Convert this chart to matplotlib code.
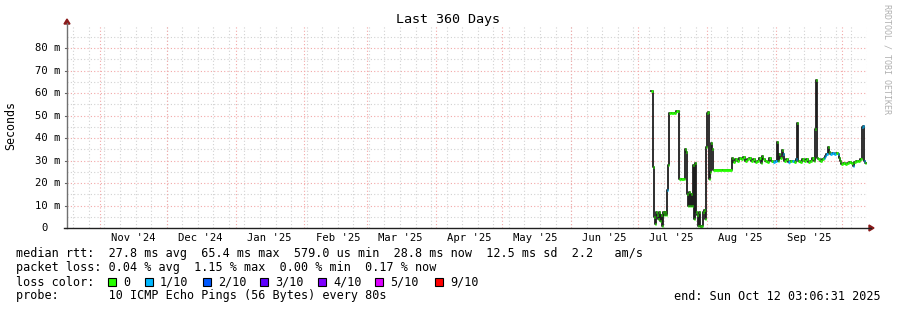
import matplotlib
matplotlib.use("Agg")
import matplotlib.pyplot as plt
from matplotlib.patches import Rectangle, Polygon
from matplotlib.lines import Line2D
import matplotlib.transforms as mtrans
from datetime import datetime, timedelta

# ---------------- data ----------------
start_time = datetime(2024, 10, 17, 3, 6, 31)
span_days = 360

# day offsets from start_time, median rtt (ms), loss level index
day_offset = [262.80, 263.70, 264.15, 264.60, 265.05, 265.50, 265.95, 266.40, 266.85, 267.30,
              267.75, 268.20, 268.65, 269.10, 269.55, 270.00, 270.45, 270.90, 271.80, 273.15,
              274.05, 274.95, 275.40, 276.30, 277.65, 278.10, 278.55, 279.00, 279.45, 279.90,
              280.35, 280.80, 281.25, 281.70, 282.15, 282.60, 283.05, 283.50, 283.95, 284.40,
              284.85, 285.30, 285.75, 286.20, 286.65, 287.10, 287.55, 288.00, 288.45, 288.90,
              289.35, 289.80, 290.25, 290.70, 294.75, 299.25, 299.70, 300.60, 301.50, 302.40,
              303.30, 304.20, 305.10, 306.00, 306.90, 307.80, 308.70, 309.60, 310.50, 311.40,
              312.30, 312.75, 313.20, 314.10, 315.00, 315.90, 316.80, 317.70, 318.60, 319.50,
              319.95, 320.40, 320.85, 321.75, 322.20, 322.65, 323.55, 324.45, 325.35, 326.25,
              327.15, 328.05, 328.50, 328.95, 329.85, 330.75, 331.65, 332.55, 333.45, 334.35,
              335.25, 336.15, 336.60, 337.05, 337.50, 337.95, 338.85, 339.75, 340.65, 341.10,
              341.55, 342.45, 342.90, 343.35, 344.25, 345.15, 346.05, 346.95, 347.40, 347.85,
              348.30, 349.20, 350.10, 351.00, 351.90, 352.80, 353.70, 354.15, 355.05, 355.95,
              356.85, 357.75, 358.20, 358.65, 359.10]
median_ms = [61.0, 27.0, 5.0, 2.0, 7.0, 6.0, 4.0, 7.0, 3.0, 6.0,
             1.0, 7.0, 6.0, 7.0, 6.0, 17.0, 28.0, 51.0, 51.0, 51.0,
             52.0, 52.0, 22.0, 22.0, 22.0, 35.0, 34.0, 15.0, 10.0, 16.0,
             10.0, 15.0, 10.0, 28.0, 4.0, 29.0, 7.0, 6.0, 1.0, 7.0,
             1.0, 0.5, 1.0, 7.0, 8.0, 4.0, 36.0, 51.0, 51.5, 22.0,
             25.0, 38.0, 35.0, 26.0, 26.0, 31.0, 29.5, 30.5, 30.0, 31.0,
             30.5, 31.5, 30.0, 30.5, 31.0, 30.0, 30.5, 29.5, 30.0, 31.0,
             29.0, 32.0, 30.5, 30.0, 29.5, 31.0, 30.0, 29.5, 30.0, 38.4,
             30.0, 33.0, 31.0, 34.7, 33.0, 30.0, 30.5, 29.5, 30.0, 30.0,
             29.5, 30.5, 46.5, 30.0, 29.5, 30.5, 30.0, 30.5, 29.5, 30.0,
             31.0, 30.0, 44.0, 65.8, 31.0, 30.5, 30.0, 30.5, 31.0, 32.0,
             33.0, 36.0, 34.0, 33.0, 33.5, 33.0, 33.5, 33.0, 31.0, 30.0,
             28.5, 29.0, 28.5, 29.0, 29.5, 29.0, 27.5, 29.5, 30.0, 30.0,
             30.5, 45.0, 45.5, 30.0, 29.0]
loss_level = [0, 0, 0, 0, 0, 0, 0, 0, 0, 0,
              0, 0, 0, 0, 0, 1, 0, 0, 0, 0,
              0, 0, 0, 0, 0, 0, 0, 0, 0, 0,
              0, 0, 0, 0, 0, 0, 0, 0, 0, 0,
              0, 0, 0, 0, 0, 0, 0, 0, 0, 0,
              0, 0, 0, 0, 0, 0, 0, 0, 0, 0,
              0, 0, 0, 0, 0, 0, 0, 0, 0, 0,
              0, 0, 0, 0, 0, 0, 0, 1, 1, 0,
              0, 0, 0, 0, 1, 0, 0, 1, 0, 1,
              0, 1, 0, 0, 0, 0, 0, 0, 0, 0,
              0, 0, 0, 0, 0, 0, 0, 0, 1, 1,
              1, 0, 0, 1, 1, 1, 0, 1, 0, 0,
              0, 0, 0, 0, 0, 0, 1, 0, 0, 0,
              0, 1, 1, 1, 0]

loss_labels = ["0", "1/10", "2/10", "3/10", "4/10", "5/10", "9/10"]
loss_colors = ["#26ff00", "#00b8ff", "#0059ff", "#5e00ff", "#7e00ff", "#dd00ff", "#ff0000"]

month_labels = ["Nov '24", "Dec '24", "Jan '25", "Feb '25", "Mar '25", "Apr '25",
                "May '25", "Jun '25", "Jul '25", "Aug '25", "Sep '25"]
ytick_values = [0, 10, 20, 30, 40, 50, 60, 70, 80]

legend_rtt = "median rtt:  27.8 ms avg  65.4 ms max  579.0 us min  28.8 ms now  12.5 ms sd  2.2   am/s"
legend_loss = "packet loss: 0.04 % avg  1.15 % max  0.00 % min  0.17 % now"
legend_probe = "probe:       10 ICMP Echo Pings (56 Bytes) every 80s"
end_text = "end: Sun Oct 12 03:06:31 2025"
title = "Last 360 Days"

# ---------------- layout ----------------
W, H = 897, 310
MONO = "DejaVu Sans Mono"
plt.rcParams["font.family"] = MONO

fig = plt.figure(figsize=(W / 100, H / 100), dpi=100)
fig.patch.set_facecolor("white")

def fx(x):
    return x / W

def fy(y):
    return 1 - y / H

PL, PR, PT, PB = 67, 867, 26, 228
ax = fig.add_axes([fx(PL), fy(PB), (PR - PL) / W, (PB - PT) / H])
ax.set_xlim(0, span_days)
ax.set_ylim(0, 89.8)
for s in ax.spines.values():
    s.set_visible(False)
ax.set_xticks([])
ax.set_yticks([])
ax.patch.set_facecolor("white")

def day_of(dt):
    return (dt - start_time).total_seconds() / 86400.0

dot = (0, (1, 2))
GRAY = "#d2d2d2"
RED = "#f3a8a8"
# horizontal grid
for v in range(5, 90, 5):
    ax.axhline(v, color=RED if v % 10 == 0 else GRAY, lw=0.8, ls=dot, zorder=1)
# weekly minor grid
wk = datetime(2024, 10, 20)
while day_of(wk) < span_days:
    ax.axvline(day_of(wk), color=GRAY, lw=0.8, ls=dot, zorder=1)
    wk += timedelta(days=7)
# monthly major grid
month_starts = []
y, m = 2024, 11
while True:
    d = datetime(y, m, 1)
    if day_of(d) > span_days:
        break
    month_starts.append(d)
    m += 1
    if m > 12:
        m = 1
        y += 1
for d in month_starts:
    ax.axvline(day_of(d), color=RED, lw=0.8, ls=dot, zorder=1)

# month labels at mid-month
lab_tr = mtrans.blended_transform_factory(ax.transData, fig.transFigure)
for d, lab in zip(month_starts, month_labels):
    mid = d.replace(day=16)
    ax.text(day_of(mid), fy(238), lab, transform=lab_tr, ha="center", va="center",
            fontsize=7.6, family=MONO, color="#000000")

# y tick labels
ytr = mtrans.blended_transform_factory(fig.transFigure, ax.transData)
for v in ytick_values:
    if v == 0:
        ax.text(fx(48), v, "0", transform=ytr, ha="right", va="center", fontsize=7.6, color="#000000")
    else:
        ax.text(fx(60.5), v, "%d m" % v, transform=ytr, ha="right", va="center", fontsize=7.6, color="#000000")
    ax.plot([-1.0, 0], [v, v], color="#666666", lw=0.8, clip_on=False, zorder=3)

# ---------------- data marks ----------------
step = 0.45
t_ext = day_offset + [day_offset[-1] + step]
v_ext = median_ms + [median_ms[-1]]
ax.step(t_ext, v_ext, where="post", color="#1e1e1e", lw=1.3, zorder=4)
for i in range(len(day_offset)):
    t0 = day_offset[i]
    t1 = day_offset[i + 1] if i + 1 < len(day_offset) else day_offset[i] + step
    ax.hlines(median_ms[i], t0, t1, color=loss_colors[loss_level[i]], lw=2.0, zorder=5)

# ---------------- axes lines + arrows ----------------
arrow_c = "#8b1a1a"
fig.add_artist(Line2D([fx(PL), fx(PL)], [fy(PB), fy(23)], color="#707070", lw=1.0))
fig.add_artist(Line2D([fx(PL - 3), fx(871)], [fy(PB), fy(PB)], color="#202020", lw=1.0))
fig.add_artist(Polygon([(fx(PL - 3), fy(24)), (fx(PL + 3), fy(24)), (fx(PL), fy(19))],
                       closed=True, color=arrow_c, transform=fig.transFigure))
fig.add_artist(Polygon([(fx(869), fy(PB - 3)), (fx(869), fy(PB + 3)), (fx(874), fy(PB))],
                       closed=True, color=arrow_c, transform=fig.transFigure))

# ---------------- texts ----------------
fig.text(fx(448), fy(19), title, ha="center", va="center", fontsize=9.6, family=MONO, color="#000000")
fig.text(fx(11), fy(126), "Seconds", rotation=90, ha="center", va="center", fontsize=8.4,
         family=MONO, color="#000000")
fig.text(fx(887), fy(59), "RRDTOOL / TOBI OETIKER", rotation=270, ha="center", va="center",
         fontsize=6.0, family=MONO, color="#b0b0b0")

LFS = 8.45
fig.text(fx(16), fy(254), legend_rtt, ha="left", va="center", fontsize=LFS, family=MONO)
fig.text(fx(16), fy(268), legend_loss, ha="left", va="center", fontsize=LFS, family=MONO)
fig.text(fx(16), fy(282), "loss color:", ha="left", va="center", fontsize=LFS, family=MONO)
box_x = [108, 145, 203, 260, 318, 375, 435]
for bx, lab, col in zip(box_x, loss_labels, loss_colors):
    fig.add_artist(Rectangle((fx(bx), fy(286)), 8 / W, 8 / H, facecolor=col, edgecolor="#000000",
                             lw=0.8, transform=fig.transFigure))
    fig.text(fx(bx + 15), fy(282), lab, ha="left", va="center", fontsize=LFS, family=MONO)
fig.text(fx(16), fy(296), legend_probe, ha="left", va="center", fontsize=LFS, family=MONO)
fig.text(fx(881), fy(296), end_text, ha="right", va="center", fontsize=LFS, family=MONO)

fig.savefig("out.png", dpi=100, facecolor="white")
